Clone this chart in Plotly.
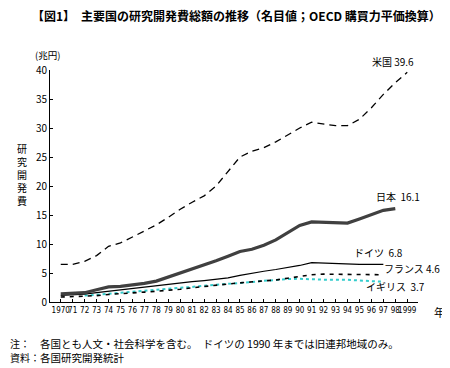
import plotly.graph_objects as go

years = list(range(1970, 2000))
tick_labels = ["1970"] + [str(y)[2:] for y in range(1971, 1999)] + ["1999"]

us = [6.5, 6.5, 7.0, 8.0, 9.6, 10.2, 11.2, 12.2, 13.3, 14.6, 16.0, 17.2, 18.3, 20.0, 22.5,
      25.0, 26.0, 26.6, 27.6, 28.8, 30.0, 31.0, 30.7, 30.4, 30.4, 31.5, 33.5, 35.8, 37.8, 39.6]
japan = [1.4, 1.5, 1.6, 2.1, 2.6, 2.7, 2.9, 3.2, 3.6, 4.3, 4.9, 5.7, 6.4, 7.1, 7.9,
         8.7, 9.1, 9.8, 10.7, 12.0, 13.2, 13.8, 13.7, 13.6, 13.6, 14.3, 15.0, 15.8, 16.1, None]
germany = [1.15, 1.25, 1.35, 1.6, 1.85, 2.1, 2.3, 2.5, 2.8, 3.1, 3.3, 3.5, 3.7, 3.95, 4.15,
           4.6, 5.0, 5.3, 5.6, 5.9, 6.3, 6.8, 6.7, 6.6, 6.5, 6.5, 6.5, 6.5, None, None]
france = [0.85, 0.9, 1.0, 1.1, 1.3, 1.4, 1.55, 1.7, 1.85, 2.0, 2.2, 2.45, 2.7, 2.95, 3.1,
          3.3, 3.45, 3.6, 3.8, 4.1, 4.4, 4.7, 4.8, 4.8, 4.75, 4.8, 4.75, 4.7, None, None]
uk = [None, None, 1.1, 1.25, 1.4, 1.6, 1.75, 1.9, 2.1, 2.3, 2.4, 2.6, 2.8, 2.95, 3.05,
      3.2, 3.45, 3.65, 3.85, 3.95, 4.0, 3.9, 3.85, 3.85, 3.85, 3.7, 3.55, 3.5, None, None]

labels = ["米国 39.6", "日本  16.1", "ドイツ  6.8", "フランス 4.6", "イギリス  3.7"]

FONT = "Noto Sans CJK JP"
NARROW = "DejaVu Sans Condensed, Liberation Sans Narrow, Noto Sans CJK JP"

# the page body has an 8px margin, so the figure starts at (8, 8) in the window
OFF = 8
W, H = 450 - OFF, 368 - OFF
L, T = 50 - OFF, 70 - OFF
R = W - (418 - OFF)
B = H - (302 - OFF)
pw, ph = W - L - R, H - T - B


def paper(x, y):
    """window pixel -> paper coordinates"""
    return (x - OFF - L) / pw, 1 - (y - OFF - T) / ph


fig = go.Figure()
fig.add_trace(go.Scatter(x=years, y=uk, mode="lines", line=dict(color="#33cccc", width=2, dash="dot")))
fig.add_trace(go.Scatter(x=years, y=france, mode="lines", line=dict(color="black", width=1.6, dash="4px,5px")))
fig.add_trace(go.Scatter(x=years, y=germany, mode="lines", line=dict(color="black", width=1.2)))
fig.add_trace(go.Scatter(x=years, y=japan, mode="lines", line=dict(color="#404040", width=3.2)))
fig.add_trace(go.Scatter(x=years, y=us, mode="lines", line=dict(color="black", width=1.3, dash="7px,5px")))

ann = []
pos = [(393, 62), (398, 196), (378, 252), (412, 268), (395, 286)]
for t, (x, y) in zip(labels, pos):
    xx, yy = paper(x, y)
    ann.append(dict(text=t, x=xx, y=yy, xref="paper", yref="paper", showarrow=False,
                    xanchor="center", yanchor="middle", font=dict(size=10, color="black", family=FONT)))

extra = [
    ("(兆円)", 47, 55, 9.5),
    ("研<br>究<br>開<br>発<br>費", 22, 174, 10),
    ("年", 439, 312, 11),
]
for t, x, y, s in extra:
    xx, yy = paper(x, y)
    ann.append(dict(text=t, x=xx, y=yy, xref="paper", yref="paper", showarrow=False,
                    xanchor="center", yanchor="middle", font=dict(size=s, color="black", family=FONT)))

notes = [
    ("注：", 8, 343, 10),
    ("各国とも人文・社会科学を含む。　ドイツの 1990 年までは旧連邦地域のみ。", 38, 343, 10.5),
    ("資料：", 8, 357, 10),
    ("各国研究開発統計", 38, 357, 10.5),
]
for t, x, y, s in notes:
    xx, yy = paper(x, y)
    ann.append(dict(text=t, x=xx, y=yy, xref="paper", yref="paper", showarrow=False,
                    xanchor="left", yanchor="middle", font=dict(size=s, color="black", family=FONT)))

xx, yy = paper(236, 16)
ann.append(dict(text="<b>【図1】　主要国の研究開発費総額の推移（名目値；OECD 購買力平価換算）</b>",
                x=xx, y=yy, xref="paper", yref="paper", showarrow=False,
                xanchor="center", yanchor="middle", font=dict(size=12, color="black", family=FONT)))

fig.update_layout(
    width=W, height=H,
    margin=dict(l=L, r=R, t=T, b=B),
    paper_bgcolor="white", plot_bgcolor="white",
    showlegend=False,
    annotations=ann,
    font=dict(family=FONT, color="black"),
)
fig.update_xaxes(range=[1969.1, 1999.9], tickmode="array", tickvals=years, ticktext=tick_labels,
                 showline=True, linecolor="black", linewidth=1, ticks="inside", ticklen=3,
                 tickcolor="black", showgrid=False, zeroline=False, tickangle=0,
                 tickfont=dict(size=8, family=NARROW, color="black"))
fig.update_yaxes(range=[0, 40], dtick=5, showline=True, linecolor="black", linewidth=1,
                 ticks="inside", ticklen=3, tickcolor="black", showgrid=False, zeroline=False,
                 tickfont=dict(size=10, family=FONT, color="black"))

fig.write_html("out.html")
